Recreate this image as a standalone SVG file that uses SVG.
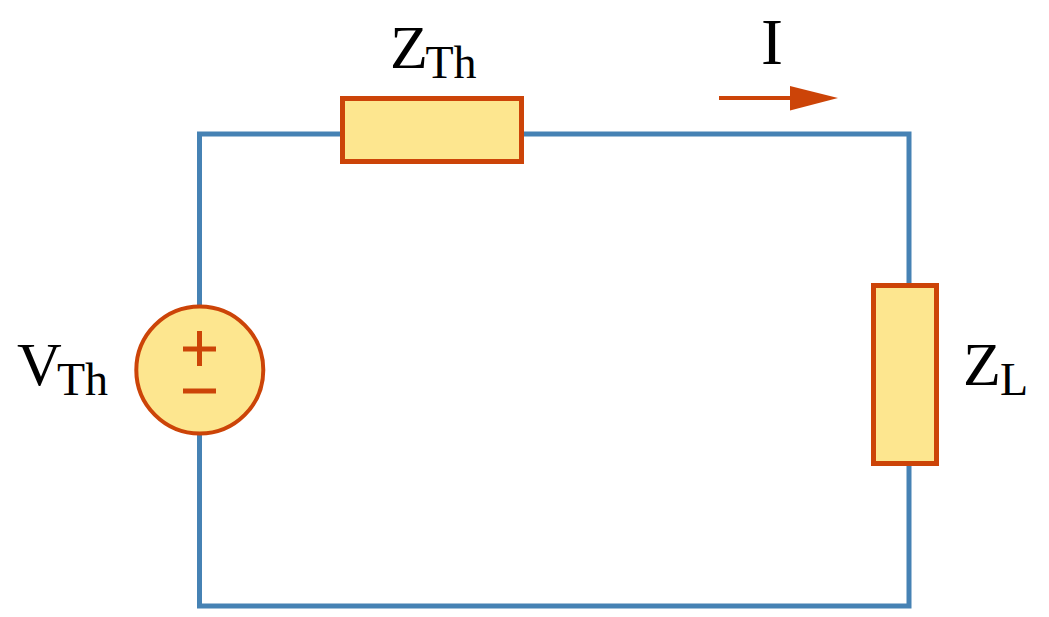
<svg xmlns="http://www.w3.org/2000/svg" width="1049" height="617" viewBox="0 0 1049 617">
<style>
.wire{fill:none;stroke:#4682b4;stroke-width:5}
.part{fill:#fde68f;stroke:#cc4408;stroke-width:5}
.sign{fill:none;stroke:#cc4408;stroke-width:5}
text{font-family:"Liberation Serif","Times New Roman",serif;fill:#000;font-size:62px}
.sub{font-size:46px}
</style>
<rect width="1049" height="617" fill="#fff"/>
<g id="connectors">
<path class="wire" d="M342 134H199.500V306M522 134H909V285M909 464V606H199.500V433"/>
<g id="current-arrow"><path d="M719 98H795" fill="none" stroke="#cc4408" stroke-width="4"/><path d="M790 86L838 98L790 110.500Z" fill="#cc4408"/></g>
</g>
<g id="z-th"><rect class="part" x="342.500" y="98.500" width="179" height="63"/><text x="390" y="68">Z<tspan class="sub" x="425.500" y="78">Th</tspan></text></g>
<g id="z-l"><rect class="part" x="873.500" y="285.500" width="63" height="178"/><text x="963" y="385">Z<tspan class="sub" x="1000" y="395">L</tspan></text></g>
<g id="v-th"><circle class="part" cx="199.800" cy="370" r="63.500" style="stroke-width:4"/><path class="sign" d="M183 349H216M199.500 331V366M183 391H216"/><text x="17" y="385">V<tspan class="sub" x="57" y="395">Th</tspan></text></g>
<g id="i-label"><text x="761" y="64" style="font-size:66px">I</text></g>
</svg>
